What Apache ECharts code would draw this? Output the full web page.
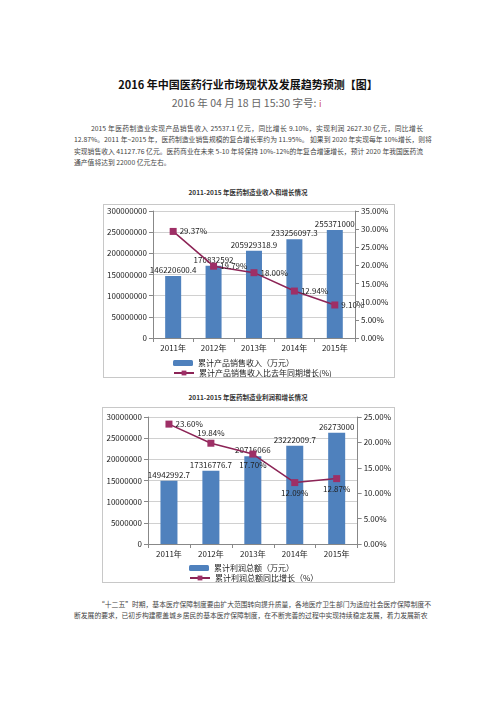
<!DOCTYPE html>
<html>
<head>
<meta charset="utf-8">
<script src="https://cdn.jsdelivr.net/npm/echarts@6/dist/echarts.min.js"></script>
<style>
html, body { margin: 0; padding: 0; background: #fff; }
body { width: 496px; height: 702px; position: relative; overflow: hidden; font-family: "Noto Sans CJK SC", sans-serif; }
.abs { position: absolute; }
.title { top: 76px; left: 0; width: 496px; text-align: center; font-size: 11px; font-weight: bold; color: #111; }
.date { top: 95px; left: 0; width: 496px; text-align: center; font-size: 10.5px; color: #666; }
.para { left: 74px; width: 349px; font-size: 6.8px; color: #444; line-height: 11.4px; }
.para div { text-align: justify; text-align-last: justify; white-space: nowrap; }
.para div.last { text-align-last: left; }
.cap { left: 0; width: 496px; text-align: center; font-size: 6.5px; color: #333; font-weight: bold; }
.chart { border: 1px solid #c8c8c8; box-sizing: border-box; }
</style>
</head>
<body>
<div class="abs title">2016 年中国医药行业市场现状及发展趋势预测【图】</div>
<div class="abs date">2016 年 04 月 18 日 15:30 字号:<span style="color:#c33;font-size:8px">ⅰ</span></div>
<div class="abs para" style="top:123px">
  <div style="padding-left:17px">2015 年医药制造业实现产品销售收入 25537.1 亿元，同比增长 9.10%，实现利润 2627.30 亿元，同比增长</div>
  <div>12.87%。2011 年~2015 年，医药制造业销售规模的复合增长率约为 11.95%。 如果到 2020 年实现每年 10%增长，则将</div>
  <div>实现销售收入 41127.76 亿元。医药商业在未来 5-10 年将保持 10%-12%的年复合增速增长，预计 2020 年我国医药流</div>
  <div class="last">通产值将达到 22000 亿元左右。</div>
</div>
<div class="abs cap" style="top:187px">2011-2015 年医药制造业收入和增长情况</div>
<div id="chart1" class="abs chart" style="left:103px;top:204px;width:292px;height:174px"></div>
<div class="abs cap" style="top:392px">2011-2015 年医药制造业利润和增长情况</div>
<div id="chart2" class="abs chart" style="left:102px;top:407px;width:293px;height:176px"></div>
<div class="abs para" style="top:599px">
  <div style="padding-left:24px">“十二五”时期，基本医疗保障制度要由扩大范围转向提升质量，各地医疗卫生部门为适应社会医疗保障制度不</div>
  <div>断发展的要求，已初步构建覆盖城乡居民的基本医疗保障制度，在不断完善的过程中实现持续稳定发展，着力发展新农</div>
</div>

<script>
// 数据
const years = ['2011年', '2012年', '2013年', '2014年', '2015年']
const salesRevenue = [146220600.4, 170832592, 205929318.9, 233256097.3, 255371000]
const salesGrowth = [29.37, 19.79, 18.00, 12.94, 9.10]
const totalProfit = [14942992.7, 17316776.7, 20716066, 23222009.7, 26273000]
const profitGrowth = [23.60, 19.84, 17.70, 12.09, 12.87]

const FONT = '"Noto Sans CJK SC", sans-serif'
const BAR_COLOR = '#4f81bd'
const LINE_COLOR = '#8c2456'
const MARK_COLOR = '#9e2f66'

// 图例，每项单独一个，竖排
const legendItem = (name, left, top) => ({
	data: [name],
	left: left,
	top: top,
	itemWidth: 20,
	itemHeight: 6,
	padding: 0,
	textStyle: { fontSize: 8, color: '#222', fontFamily: FONT }
})

const makeOption = (cfg) => {
	return {
		animation: false,
		textStyle: { fontFamily: FONT },
		grid: cfg.grid,
		legend: [
			legendItem(cfg.barName, cfg.legendLeft, cfg.legendTop),
			legendItem(cfg.lineName, cfg.legendLeft, cfg.legendTop + 10)
		],
		xAxis: {
			type: 'category',
			data: years,
			axisLine: { lineStyle: { color: '#888', width: 1 } },
			axisTick: { show: true, lineStyle: { color: '#888' }, length: 4 },
			axisLabel: { fontSize: 8, color: '#222', margin: 6 }
		},
		yAxis: [
			{
				type: 'value',
				min: 0,
				max: cfg.leftMax,
				interval: cfg.leftStep,
				axisLine: { show: true, lineStyle: { color: '#888' } },
				axisTick: { show: true, inside: false, length: 4, lineStyle: { color: '#888' } },
				axisLabel: { fontSize: 8, color: '#222', margin: 6, formatter: (v) => String(v) },
				splitLine: { lineStyle: { color: '#d0d0d0', width: 1 } }
			},
			{
				type: 'value',
				min: 0,
				max: cfg.rightMax,
				interval: 5,
				axisLine: { show: true, lineStyle: { color: '#888' } },
				axisTick: { show: true, length: 4, lineStyle: { color: '#888' } },
				axisLabel: { fontSize: 8, color: '#222', margin: 6, formatter: (v) => v.toFixed(2) + '%' },
				splitLine: { show: false }
			}
		],
		series: [
			{
				name: cfg.barName,
				type: 'bar',
				data: cfg.barData,
				barWidth: cfg.barWidth,
				itemStyle: { color: BAR_COLOR },
				label: {
					show: true,
					position: 'top',
					distance: 2,
					fontSize: 8,
					color: '#222',
					formatter: (p) => String(p.value)
				}
			},
			{
				name: cfg.lineName,
				type: 'line',
				yAxisIndex: 1,
				data: cfg.lineData.map((v, i) => ({
					value: v,
					label: { position: cfg.labelPos[i] }
				})),
				symbol: 'rect',
				symbolSize: 7,
				lineStyle: { color: LINE_COLOR, width: 1.5 },
				itemStyle: { color: MARK_COLOR },
				label: {
					show: true,
					fontSize: 8,
					color: '#222',
					distance: 3,
					formatter: (p) => p.value.toFixed(2) + '%'
				}
			}
		]
	}
}

const chart1 = echarts.init(document.getElementById('chart1'))
chart1.setOption(makeOption({
	grid: { left: 47, right: 39, top: 6, bottom: 39 },
	leftMax: 300000000,
	leftStep: 50000000,
	rightMax: 35,
	barName: '累计产品销售收入（万元）',
	lineName: '累计产品销售收入比去年同期增长(%)',
	barData: salesRevenue,
	lineData: salesGrowth,
	barWidth: 16,
	labelPos: ['right', 'right', 'right', 'right', 'right'],
	legendLeft: 69,
	legendTop: 154
}))

const chart2 = echarts.init(document.getElementById('chart2'))
chart2.setOption(makeOption({
	grid: { left: 45, right: 36, top: 9, bottom: 38 },
	leftMax: 30000000,
	leftStep: 5000000,
	rightMax: 25,
	barName: '累计利润总额（万元）',
	lineName: '累计利润总额同比增长（%）',
	barData: totalProfit,
	lineData: profitGrowth,
	barWidth: 17,
	labelPos: ['right', 'top', 'bottom', 'bottom', 'bottom'],
	legendLeft: 86,
	legendTop: 156
}))
</script>
</body>
</html>
